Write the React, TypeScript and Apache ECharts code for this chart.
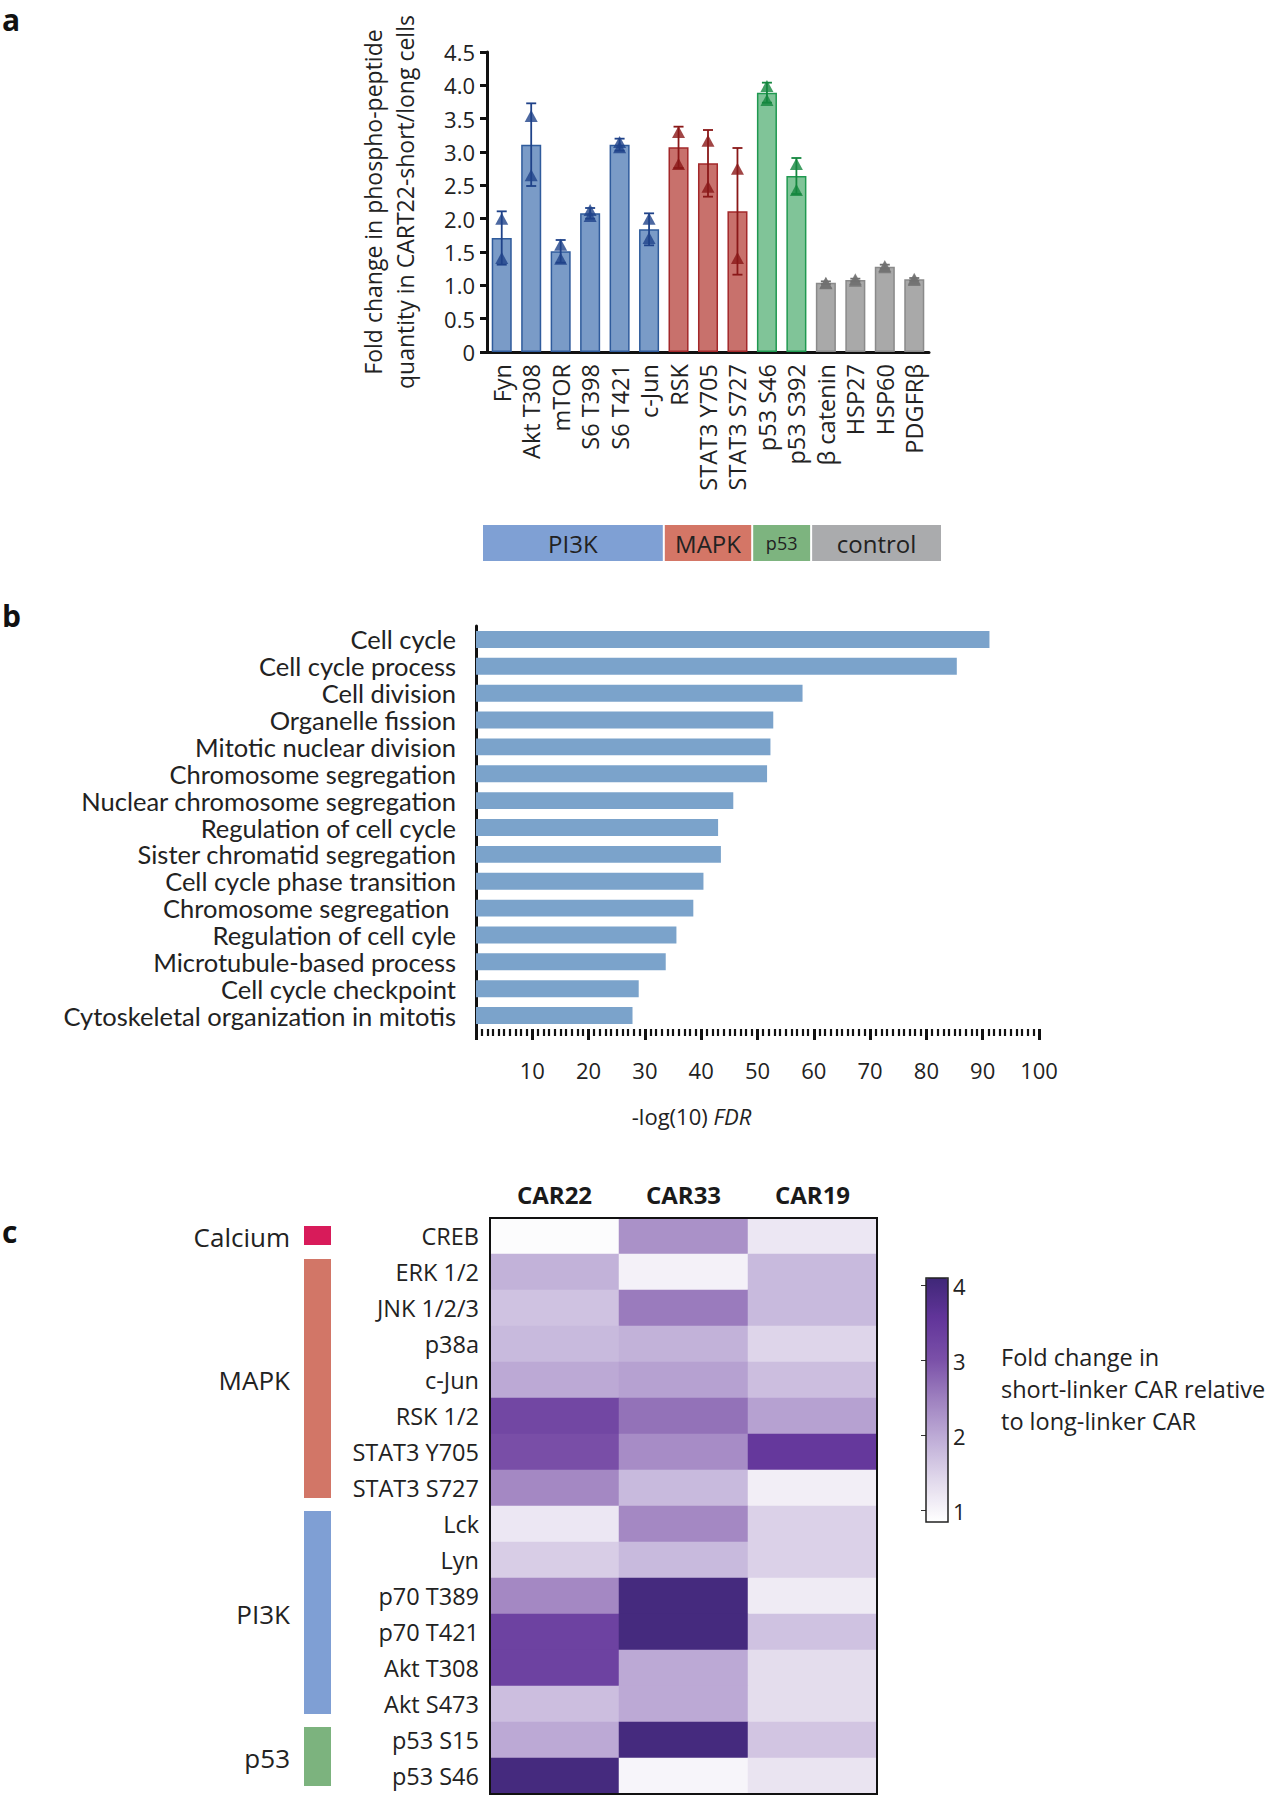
import React, { useEffect, useRef } from "react";
import * as echarts from "echarts";

// ---------- Panel a data ----------
const proteinsA = ["Fyn", "Akt T308", "mTOR", "S6 T398", "S6 T421", "c-Jun", "RSK", "STAT3 Y705", "STAT3 S727", "p53 S46", "p53 S392", "β catenin", "HSP27", "HSP60", "PDGFRβ"];
const pathwayA = ["PI3K", "PI3K", "PI3K", "PI3K", "PI3K", "PI3K", "MAPK", "MAPK", "MAPK", "p53", "p53", "control", "control", "control", "control"];
const meanA = [1.71, 3.11, 1.51, 2.08, 3.11, 1.84, 3.07, 2.83, 2.11, 3.89, 2.64, 1.04, 1.08, 1.28, 1.09];
const sdA = [0.40, 0.62, 0.17, 0.08, 0.09, 0.24, 0.31, 0.50, 0.95, 0.15, 0.27, 0.02, 0.02, 0.03, 0.02];
const rep1A = [2.0, 3.54, 1.61, 2.13, 3.15, 2.0, 3.30, 3.17, 2.75, 3.99, 2.82, 1.04, 1.09, 1.29, 1.10];
const rep2A = [1.41, 2.65, 1.40, 2.04, 3.07, 1.71, 2.82, 2.48, 1.41, 3.78, 2.43, 1.03, 1.07, 1.27, 1.08];
const groupNamesA = ["PI3K", "MAPK", "p53", "control"];
const groupStartA = [0, 6, 9, 11];
const groupEndA = [5, 8, 10, 14];

// ---------- Panel b data ----------
const goTerms = ["Cell cycle", "Cell cycle process", "Cell division", "Organelle fission", "Mitotic nuclear division", "Chromosome segregation", "Nuclear chromosome segregation", "Regulation of cell cycle", "Sister chromatid segregation", "Cell cycle phase transition", "Chromosome segregation ", "Regulation of cell cyle", "Microtubule-based process", "Cell cycle checkpoint", "Cytoskeletal organization in mitotis"];
const goFdr = [91.2, 85.4, 58.0, 52.8, 52.3, 51.7, 45.7, 43.0, 43.5, 40.4, 38.6, 35.6, 33.7, 28.9, 27.8];

// ---------- Panel c data ----------
const heatRows = ["CREB", "ERK 1/2", "JNK 1/2/3", "p38a", "c-Jun", "RSK 1/2", "STAT3 Y705", "STAT3 S727", "Lck", "Lyn", "p70 T389", "p70 T421", "Akt T308", "Akt S473", "p53 S15", "p53 S46"];
const heatCols = ["CAR22", "CAR33", "CAR19"];
const car22 = [0.9, 1.9, 1.7, 1.8, 2.0, 3.2, 3.05, 2.4, 1.2, 1.55, 2.4, 3.3, 3.3, 1.75, 2.0, 4.0];
const car33 = [2.3, 1.05, 2.55, 1.9, 2.1, 2.65, 2.35, 1.8, 2.4, 1.8, 4.0, 4.0, 2.0, 2.0, 4.0, 1.0];
const car19 = [1.2, 1.8, 1.8, 1.45, 1.75, 2.1, 3.5, 1.1, 1.5, 1.5, 1.15, 1.7, 1.35, 1.35, 1.65, 1.25];
const heatGroupNames = ["Calcium", "MAPK", "PI3K", "p53"];
const heatGroupStart = [0, 1, 8, 14];
const heatGroupEnd = [0, 7, 13, 15];
const colorbarTicks = [1, 2, 3, 4];

const FONT = "'Open Sans', 'Noto Sans', sans-serif";
const NARROW = "'Liberation Sans Narrow', 'Lato', sans-serif";

const barFill: Record<string, string> = { PI3K: "#7a9bc7", MAPK: "#c8716c", p53: "#80c498", control: "#a9a9a9" };
const barEdge: Record<string, string> = { PI3K: "#2f5b9c", MAPK: "#a3282a", p53: "#1f9950", control: "#8a8a8a" };
const markColor: Record<string, string> = { PI3K: "#1f4289", MAPK: "#8a1818", p53: "#14873f", control: "#707070" };
const groupBoxColor: Record<string, string> = { PI3K: "#7fa0d4", MAPK: "#d47666", p53: "#7db47f", control: "#aaabad" };
const heatGroupColor: Record<string, string> = { Calcium: "#d81b5a", MAPK: "#d27667", PI3K: "#7f9fd4", p53: "#7cb37e" };

export default function App() {
  const ref = useRef<HTMLDivElement>(null);
  useEffect(() => {
    document.body.style.margin = "0";
    if (!ref.current) return;
    const chart = echarts.init(ref.current, undefined, { renderer: "svg" });

    const barData = meanA.map((v, i) => ({
      value: v,
      itemStyle: { color: barFill[pathwayA[i]], borderColor: barEdge[pathwayA[i]], borderWidth: 1.5 },
    }));
    const errData = meanA.map((v, i) => [i, v, sdA[i]]);
    const pointData: any[] = [];
    proteinsA.forEach((_, i) => {
      pointData.push({ value: [i, rep1A[i]], itemStyle: { color: markColor[pathwayA[i]] } });
      pointData.push({ value: [i, rep2A[i]], itemStyle: { color: markColor[pathwayA[i]] } });
    });
    const groupAData = groupNamesA.map((_, g) => [groupStartA[g], 0, groupEndA[g]]);

    const heatData: number[][] = [];
    heatRows.forEach((_, r) => {
      heatData.push([0, r, car22[r]]);
      heatData.push([1, r, car33[r]]);
      heatData.push([2, r, car19[r]]);
    });
    const heatGroupData = heatGroupNames.map((_, g) => [0, heatGroupStart[g], heatGroupEnd[g]]);

    const axisBlack = { lineStyle: { color: "#111", width: 3 } };
    const lastGroup = groupNamesA.length - 1;

    const option: any = {
      animation: false,
      textStyle: { fontFamily: FONT, color: "#222" },
      grid: [
        { left: 487, top: 52, width: 442, height: 300 },
        { left: 476, top: 626, width: 563, height: 403 },
        { left: 490, top: 1218, width: 387, height: 576, show: true, borderColor: "#111", borderWidth: 2, backgroundColor: "transparent", z: 10 },
        { left: 304, top: 1218, width: 27, height: 576 },
        { left: 926, top: 1278, width: 22, height: 244, show: true, borderColor: "#222", borderWidth: 1.5, backgroundColor: "transparent", z: 10 },
      ],
      xAxis: [
        {
          gridIndex: 0, type: "category", data: proteinsA,
          axisLine: axisBlack,
          axisTick: { alignWithLabel: true, length: 8, lineStyle: { color: "#111", width: 3 } },
          axisLabel: { rotate: 90, fontSize: 23.5, margin: 12, color: "#222", fontFamily: FONT, interval: 0 },
        },
        {
          gridIndex: 1, type: "value", min: 0, max: 100, interval: 10,
          axisLine: axisBlack,
          axisTick: { show: true, length: 11, lineStyle: { color: "#111", width: 3 } },
          minorTick: { show: true, splitNumber: 10, length: 7, lineStyle: { color: "#111", width: 2.2 } },
          splitLine: { show: false },
          axisLabel: { fontSize: 22, margin: 30, color: "#222", fontFamily: FONT, formatter: (v: number) => (v === 0 ? "" : String(v)) },
          name: "-log(10) {i|FDR}", nameLocation: "middle", nameGap: 76,
          nameTextStyle: { fontSize: 22, color: "#222", fontFamily: FONT, padding: [0, 132, 0, 0], rich: { i: { fontStyle: "italic", fontSize: 22, fontFamily: FONT, color: "#222" } } },
        },
        {
          gridIndex: 2, type: "category", data: heatCols, position: "top",
          axisLine: { show: false }, axisTick: { show: false },
          axisLabel: { fontSize: 24, fontWeight: "bold", margin: 12, color: "#1a1a1a", fontFamily: FONT },
        },
        { gridIndex: 3, type: "value", min: 0, max: 1, show: false },
        { gridIndex: 4, type: "value", min: 0, max: 1, show: false },
      ],
      yAxis: [
        {
          gridIndex: 0, type: "value", min: 0, max: 4.5, interval: 0.5,
          axisLine: { show: true, ...axisBlack },
          axisTick: { show: true, length: 7, lineStyle: { color: "#111", width: 3 } },
          splitLine: { show: false },
          axisLabel: { fontSize: 22, margin: 12, color: "#222", fontFamily: FONT, formatter: (v: number) => (v === 0 ? "0" : v.toFixed(1)) },
          name: "Fold change in phospho-peptide\nquantity in CART22-short/long cells",
          nameLocation: "middle", nameRotate: 90, nameGap: 66,
          nameTextStyle: { fontSize: 23, lineHeight: 32, color: "#222", fontFamily: FONT },
        },
        {
          gridIndex: 1, type: "category", data: goTerms, inverse: true,
          axisLine: axisBlack, axisTick: { show: false },
          axisLabel: { fontSize: 25.5, lineHeight: 25, margin: 20, color: "#222", fontFamily: NARROW, interval: 0 },
        },
        {
          gridIndex: 2, type: "category", data: heatRows, inverse: true,
          axisLine: { show: false }, axisTick: { show: false },
          axisLabel: { fontSize: 23.5, margin: 11, color: "#222", fontFamily: FONT, interval: 0 },
        },
        { gridIndex: 3, type: "category", data: heatRows, inverse: true, show: false },
        {
          gridIndex: 4, type: "value", min: 0.85, max: 4.1, position: "right",
          axisLine: { show: false },
          splitLine: { show: false },
          axisTick: { show: true, inside: true, length: 5, customValues: colorbarTicks, lineStyle: { color: "#333", width: 1 } },
          axisLabel: { show: true, customValues: colorbarTicks, fontSize: 22, margin: 5, color: "#222", fontFamily: FONT },
        },
      ],
      visualMap: {
        type: "continuous", min: 0.85, max: 4.1, seriesIndex: 6, calculable: false,
        orient: "vertical", left: 926, top: 1278, itemWidth: 22, itemHeight: 244, padding: 0,
        inRange: { color: ["#ffffff", "#e2daec", "#c0afd8", "#9f82c0", "#7a50a8", "#62359a", "#3f2778"] },
      },
      series: [
        {
          type: "bar", xAxisIndex: 0, yAxisIndex: 0, data: barData, barWidth: "68%",
        },
        {
          type: "custom", xAxisIndex: 0, yAxisIndex: 0, data: errData, z: 3,
          renderItem: (params: any, api: any) => {
            const i = api.value(0), m = api.value(1), e = api.value(2);
            const t = api.coord([i, m + e]);
            const b = api.coord([i, m - e]);
            const c = markColor[pathwayA[params.dataIndex]];
            const w = 5;
            const st = { stroke: c, lineWidth: 1.8 };
            return {
              type: "group", children: [
                { type: "line", shape: { x1: t[0], y1: t[1], x2: b[0], y2: b[1] }, style: st },
                { type: "line", shape: { x1: t[0] - w, y1: t[1], x2: t[0] + w, y2: t[1] }, style: st },
                { type: "line", shape: { x1: b[0] - w, y1: b[1], x2: b[0] + w, y2: b[1] }, style: st },
              ],
            };
          },
        },
        {
          type: "scatter", xAxisIndex: 0, yAxisIndex: 0, data: pointData, symbol: "triangle", symbolSize: [13, 12], z: 4,
        },
        {
          type: "custom", xAxisIndex: 0, yAxisIndex: 0, data: groupAData, clip: false, z: 3,
          renderItem: (params: any, api: any) => {
            const s = api.coord([api.value(0), 0]);
            const e = api.coord([api.value(2), 0]);
            const bw = api.size([1, 0])[0];
            let x0 = s[0] - bw / 2 + 1;
            let x1 = e[0] + bw / 2 - 1;
            if (params.dataIndex === 0) x0 -= 5;
            if (params.dataIndex === lastGroup) x1 += 13;
            const y0 = s[1] + 173;
            const h = 36;
            const name = groupNamesA[params.dataIndex];
            return {
              type: "group", children: [
                { type: "rect", shape: { x: x0, y: y0, width: x1 - x0, height: h }, style: { fill: groupBoxColor[name] } },
                { type: "text", x: (x0 + x1) / 2, y: y0 + h / 2, style: { text: name, align: "center", verticalAlign: "middle", fill: "#222", font: `${name === "p53" ? 18 : 24}px ${FONT}` } },
              ],
            };
          },
        },
        {
          type: "bar", xAxisIndex: 1, yAxisIndex: 1, data: goFdr, barWidth: "63%", itemStyle: { color: "#7ba3cb" },
        },
        {
          type: "custom", xAxisIndex: 3, yAxisIndex: 3, data: heatGroupData, clip: false, encode: { x: 0, y: 1 },
          renderItem: (params: any, api: any) => {
            const s = api.coord([0, api.value(1)]);
            const e = api.coord([0, api.value(2)]);
            const rh = api.size([0, 1])[1];
            const name = heatGroupNames[params.dataIndex];
            const inset = name === "Calcium" ? 8 : 5;
            const y0 = s[1] - rh / 2 + inset;
            const y1 = e[1] + rh / 2 - (name === "Calcium" ? 9 : 8);
            const x0 = s[0];
            return {
              type: "group", children: [
                { type: "rect", shape: { x: x0, y: y0, width: 27, height: y1 - y0 }, style: { fill: heatGroupColor[name] } },
                { type: "text", x: x0 - 14, y: (y0 + y1) / 2 + 1, style: { text: name, align: "right", verticalAlign: "middle", fill: "#222", font: `26px ${FONT}` } },
              ],
            };
          },
        },
        {
          type: "heatmap", xAxisIndex: 2, yAxisIndex: 2, data: heatData, emphasis: { disabled: true },
        },
      ],
      graphic: [
        { type: "text", x: 2, y: 4, style: { text: "a", font: `bold 30px ${FONT}`, fill: "#111" } },
        { type: "text", x: 2, y: 600, style: { text: "b", font: `bold 30px ${FONT}`, fill: "#111" } },
        { type: "text", x: 2, y: 1216, style: { text: "c", font: `bold 30px ${FONT}`, fill: "#111" } },
        {
          type: "text", x: 1001, y: 1341,
          style: { text: "Fold change in\nshort-linker CAR relative\nto long-linker CAR", font: `23.5px ${FONT}`, lineHeight: 32, fill: "#222" },
        },
      ],
    };
    chart.setOption(option);
    return () => chart.dispose();
  }, []);
  return <div ref={ref} style={{ width: 1273, height: 1800 }} />;
}
